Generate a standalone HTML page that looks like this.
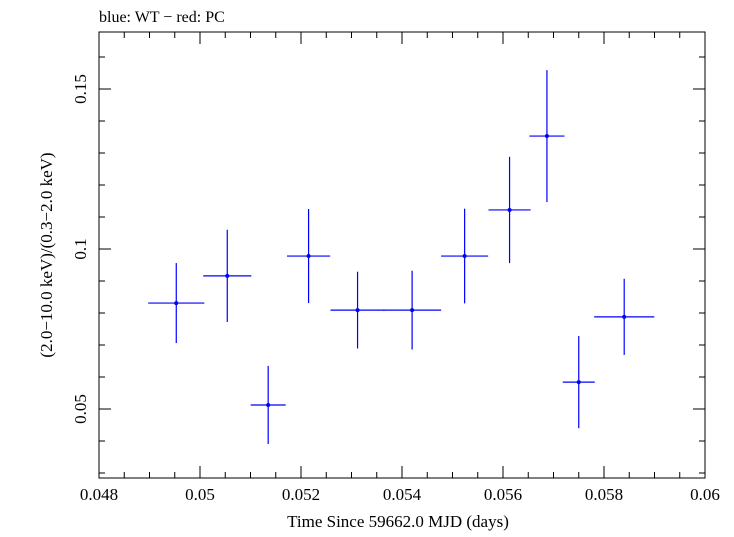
<!DOCTYPE html>
<html><head><meta charset="utf-8"><style>
body{margin:0;background:#fff;}
svg text{font-family:"Liberation Serif",serif;fill:#000;}
</style></head><body>
<svg width="734" height="532" viewBox="0 0 734 532" xmlns="http://www.w3.org/2000/svg">
<text x="99" y="22" font-size="16">blue: WT − red: PC</text>
<rect x="99" y="32" width="606" height="446" fill="none" stroke="#000" stroke-width="1"/>
<g id="axes"></g>
<g id="marks"></g>
<text x="398" y="527" font-size="17" text-anchor="middle">Time Since 59662.0 MJD (days)</text>
<text transform="translate(52,255) rotate(-90)" font-size="17" text-anchor="middle">(2.0−10.0 keV)/(0.3−2.0 keV)</text>
</svg>
<script>
const xVals=[0.04953,0.05054,0.05135,0.05215,0.05312,0.0542,0.05524,0.05613,0.05687,0.0575,0.0584];
const xErr=[0.000556,0.000476,0.000347,0.000427,0.000536,0.000575,0.000466,0.000417,0.000347,0.000317,0.000595];
const yVals=[0.0831,0.0916,0.05125,0.0978,0.0809,0.0809,0.0978,0.1122,0.1353,0.0584,0.0788];
const yErr=[0.0125,0.0144,0.0122,0.0147,0.012,0.0123,0.0148,0.0166,0.0206,0.0144,0.0119];
const xTicks=[0.048,0.05,0.052,0.054,0.056,0.058,0.06];
const xTickLabels=["0.048","0.05","0.052","0.054","0.056","0.058","0.06"];
const yTicks=[0.05,0.1,0.15];
const yTickLabels=["0.05","0.1","0.15"];
const NS="http://www.w3.org/2000/svg";
const L=99,R=705,T=32,B=478;
const X0=0.048,X1=0.06;
function sx(v){return L+(v-X0)/(X1-X0)*(R-L);}
function sy(v){return 569-v*3200;}
function mk(tag,attrs,parent){const e=document.createElementNS(NS,tag);for(const k in attrs)e.setAttribute(k,attrs[k]);parent.appendChild(e);return e;}
const ax=document.getElementById('axes'),mg=document.getElementById('marks');
for(let v=0.048;v<=0.06+1e-9;v+=0.0005){
  const major=Math.abs(Math.round(v/0.002)*0.002-v)<1e-9;
  const len=major?12:6,x=sx(v);
  const t1=mk('line',{x1:x,x2:x,y1:B,y2:B-len,stroke:'#000'},ax);
  
  
  const t2=mk('line',{x1:x,x2:x,y1:T,y2:T+len,stroke:'#000'},ax);
  
  
}
xTicks.forEach((v,i)=>{
  const t=mk('text',{x:sx(v),y:500,'font-size':17,'text-anchor':'middle'},ax);
  t.textContent=xTickLabels[i];
  
  
});
for(let k=3;k<=16;k++){
  const v=k*0.01,y=sy(v);
  if(y<T||y>B)continue;
  const len=(k%5===0)?12:6;
  const a=mk('line',{x1:L,x2:L+len,y1:y,y2:y,stroke:'#000'},ax);
  
  
  const b=mk('line',{x1:R,x2:R-len,y1:y,y2:y,stroke:'#000'},ax);
  
  
}
yTicks.forEach((v,i)=>{
  const t=mk('text',{transform:`translate(86,${sy(v)}) rotate(-90)`,'font-size':17,'text-anchor':'middle'},ax);
  t.textContent=yTickLabels[i];
  
  
});
xVals.forEach((xv,i)=>{
  const g=mk('g',{},mg);
  
  
  const cx=sx(xv),cy=sy(yVals[i]);
  mk('line',{x1:sx(xv-xErr[i]),x2:sx(xv+xErr[i]),y1:cy,y2:cy,stroke:'#0000ff','stroke-width':1.2},g);
  mk('line',{x1:cx,x2:cx,y1:sy(yVals[i]-yErr[i]),y2:sy(yVals[i]+yErr[i]),stroke:'#0000ff','stroke-width':1.2},g);
  mk('circle',{cx:cx,cy:cy,r:2,fill:'#0000ff'},g);
});
</script>
</body></html>
